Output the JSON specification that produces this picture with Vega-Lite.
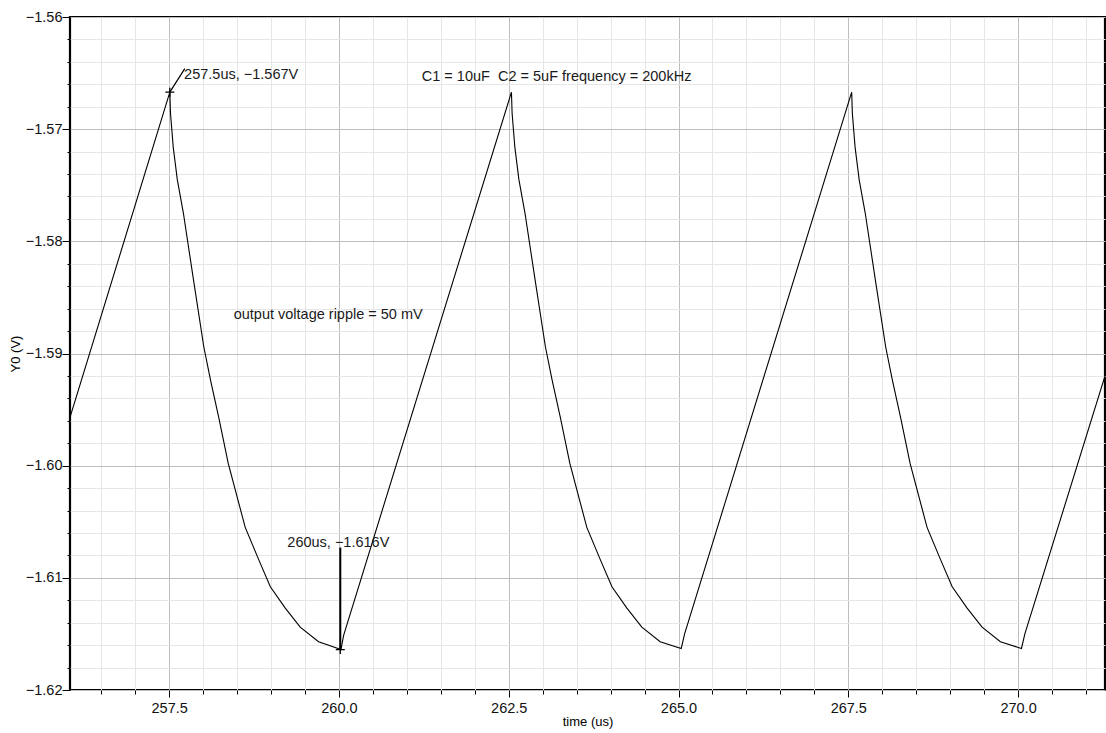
{
  "$schema": "https://vega.github.io/schema/vega-lite/v6.json",
  "width": 1035,
  "height": 673,
  "autosize": {"type": "none"},
  "padding": {"left": 70, "top": 17, "right": 1, "bottom": 43},
  "background": "white",
  "config": {
    "view": {"stroke": "black", "strokeWidth": 2.2},
    "font": "Liberation Sans"
  },
  "datasets": {
    "wave": [
      {"t": 256.04, "v": -1.5957},
      {"t": 257.51, "v": -1.5667},
      {"t": 257.52, "v": -1.5686},
      {"t": 257.56, "v": -1.5716},
      {"t": 257.62, "v": -1.5745},
      {"t": 257.71, "v": -1.5775},
      {"t": 257.86, "v": -1.5835},
      {"t": 258.01, "v": -1.5894},
      {"t": 258.11, "v": -1.5924},
      {"t": 258.23, "v": -1.5957},
      {"t": 258.37, "v": -1.5998},
      {"t": 258.62, "v": -1.6055},
      {"t": 258.82, "v": -1.6084},
      {"t": 258.99, "v": -1.6108},
      {"t": 259.21, "v": -1.6127},
      {"t": 259.43, "v": -1.6144},
      {"t": 259.70, "v": -1.6157},
      {"t": 260.03, "v": -1.6164},
      {"t": 260.07, "v": -1.6151},
      {"t": 262.54, "v": -1.5667},
      {"t": 262.55, "v": -1.5686},
      {"t": 262.59, "v": -1.5716},
      {"t": 262.65, "v": -1.5745},
      {"t": 262.74, "v": -1.5775},
      {"t": 262.89, "v": -1.5835},
      {"t": 263.04, "v": -1.5894},
      {"t": 263.14, "v": -1.5924},
      {"t": 263.26, "v": -1.5957},
      {"t": 263.40, "v": -1.5998},
      {"t": 263.65, "v": -1.6055},
      {"t": 263.85, "v": -1.6084},
      {"t": 264.02, "v": -1.6108},
      {"t": 264.24, "v": -1.6127},
      {"t": 264.46, "v": -1.6144},
      {"t": 264.73, "v": -1.6157},
      {"t": 265.04, "v": -1.6163},
      {"t": 265.09, "v": -1.6150},
      {"t": 267.55, "v": -1.5667},
      {"t": 267.56, "v": -1.5686},
      {"t": 267.60, "v": -1.5716},
      {"t": 267.66, "v": -1.5745},
      {"t": 267.75, "v": -1.5775},
      {"t": 267.90, "v": -1.5835},
      {"t": 268.05, "v": -1.5894},
      {"t": 268.15, "v": -1.5924},
      {"t": 268.27, "v": -1.5957},
      {"t": 268.41, "v": -1.5998},
      {"t": 268.66, "v": -1.6055},
      {"t": 268.86, "v": -1.6084},
      {"t": 269.03, "v": -1.6108},
      {"t": 269.25, "v": -1.6127},
      {"t": 269.47, "v": -1.6144},
      {"t": 269.74, "v": -1.6157},
      {"t": 270.05, "v": -1.6163},
      {"t": 270.10, "v": -1.6150},
      {"t": 271.28, "v": -1.5920}
    ],
    "notes": [
      {"x": 257.72, "y": -1.56515, "label": "257.5us, −1.567V"},
      {"x": 261.22, "y": -1.56532, "label": "C1 = 10uF\u00a0 C2 = 5uF frequency = 200kHz"},
      {"x": 258.45, "y": -1.58655, "label": "output voltage ripple = 50 mV"},
      {"x": 259.24, "y": -1.60689, "label": "260us, −1.616V"}
    ],
    "peakLeader": [
      {"x": 257.51, "y": -1.5667, "x2": 257.73, "y2": -1.5646}
    ],
    "valleyLeader": [
      {"x": 260.02, "y": -1.6073, "x2": 260.02, "y2": -1.6164}
    ],
    "markers": [
      {"x": 257.51, "y": -1.5667},
      {"x": 260.02, "y": -1.6164}
    ]
  },
  "layer": [
    {
      "data": {"name": "wave"},
      "mark": {"type": "line", "color": "black", "strokeWidth": 1.1, "clip": true},
      "encoding": {
        "x": {
          "field": "t",
          "type": "quantitative",
          "scale": {"domain": [256.04, 271.28], "nice": false, "zero": false},
          "axis": {
            "values": [256.5, 257, 257.5, 258, 258.5, 259, 259.5, 260, 260.5, 261, 261.5, 262, 262.5, 263, 263.5, 264, 264.5, 265, 265.5, 266, 266.5, 267, 267.5, 268, 268.5, 269, 269.5, 270, 270.5, 271],
            "tickCount": 200,
            "title": "time (us)",
            "titleFontSize": 13,
            "titleFontWeight": "normal",
            "titleColor": "black",
            "titleBaseline": "middle",
            "titleY": 31,
            "labelExpr": "round(datum.value*10)%25==0 ? format(datum.value,'.1f') : ''",
            "labelFontSize": 14.5,
            "labelColor": "#111",
            "labelPadding": 4,
            "labelOverlap": false,
            "labelFlush": false,
            "domain": false,
            "tickColor": "black",
            "tickSize": {"condition": {"test": "round(datum.value*10)%25==0", "value": 7}, "value": 4},
            "grid": true,
            "gridColor": {"condition": {"test": "round(datum.value*10)%25==0", "value": "#bdbdbd"}, "value": "#e6e6e6"},
            "gridWidth": 1
          }
        },
        "y": {
          "field": "v",
          "type": "quantitative",
          "scale": {"domain": [-1.62, -1.56], "nice": false, "zero": false},
          "axis": {
            "values": [-1.62, -1.618, -1.616, -1.614, -1.612, -1.61, -1.608, -1.606, -1.604, -1.602, -1.6, -1.598, -1.596, -1.594, -1.592, -1.59, -1.588, -1.586, -1.584, -1.582, -1.58, -1.578, -1.576, -1.574, -1.572, -1.57, -1.568, -1.566, -1.564, -1.562, -1.56],
            "tickCount": 200,
            "title": "Y0 (V)",
            "titleFontSize": 13,
            "titleFontWeight": "normal",
            "titleColor": "black",
            "titleX": -55,
            "titleY": 336.5,
            "titleAngle": -90,
            "titleBaseline": "middle",
            "labelExpr": "round(abs(datum.value)*1000)%10==0 ? format(datum.value,'.2f') : ''",
            "labelFontSize": 14.5,
            "labelColor": "#111",
            "labelPadding": 0,
            "labelOverlap": false,
            "labelFlush": false,
            "domain": false,
            "tickColor": "black",
            "tickSize": {"condition": {"test": "round(abs(datum.value)*1000)%10==0", "value": 8}, "value": 3},
            "grid": true,
            "gridColor": {"condition": {"test": "round(abs(datum.value)*1000)%10==0", "value": "#bdbdbd"}, "value": "#e6e6e6"},
            "gridWidth": 1
          }
        }
      }
    },
    {
      "data": {"name": "peakLeader"},
      "mark": {"type": "rule", "color": "black", "strokeWidth": 1.2},
      "encoding": {
        "x": {"field": "x", "type": "quantitative"},
        "y": {"field": "y", "type": "quantitative"},
        "x2": {"field": "x2"},
        "y2": {"field": "y2"}
      }
    },
    {
      "data": {"name": "valleyLeader"},
      "mark": {"type": "rule", "color": "black", "strokeWidth": 2},
      "encoding": {
        "x": {"field": "x", "type": "quantitative"},
        "y": {"field": "y", "type": "quantitative"},
        "y2": {"field": "y2"}
      }
    },
    {
      "data": {"name": "markers"},
      "mark": {"type": "point", "shape": "M-1,0H1M0,-1V1", "size": 81, "filled": false, "stroke": "black", "strokeWidth": 1.3, "opacity": 1},
      "encoding": {
        "x": {"field": "x", "type": "quantitative"},
        "y": {"field": "y", "type": "quantitative"}
      }
    },
    {
      "data": {"name": "notes"},
      "mark": {"type": "text", "align": "left", "baseline": "middle", "fontSize": 14.5, "color": "#1a1a1a", "font": "Liberation Sans"},
      "encoding": {
        "x": {"field": "x", "type": "quantitative"},
        "y": {"field": "y", "type": "quantitative"},
        "text": {"field": "label"}
      }
    }
  ]
}
